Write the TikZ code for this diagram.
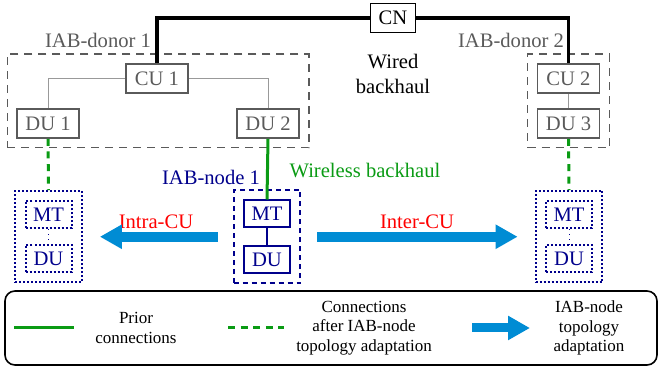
\documentclass[tikz,border=0pt]{standalone}
\usepackage{fontspec}
\setmainfont{Liberation Serif}
\usetikzlibrary{positioning,fit,arrows.meta}
\definecolor{wlgreen}{RGB}{10,155,20}
\definecolor{adblue}{RGB}{0,140,212}
\definecolor{iabnavy}{RGB}{0,0,140}
\definecolor{donorgray}{RGB}{90,90,90}
\tikzset{font=\fontsize{10.3}{12.5}\selectfont}
\tikzset{
	unit/.style={draw, line width=0.85pt, inner sep=0pt, minimum height=14.5pt, minimum width=31pt},
	donorunit/.style={unit, draw=donorgray, text=donorgray},
	iabunit/.style={unit, draw=iabnavy, text=iabnavy, line width=1pt, minimum width=23pt, minimum height=13.5pt},
	ghostunit/.style={iabunit, dash pattern=on 1pt off 1pt},
	donorbox/.style={draw=donorgray, line width=0.65pt, dash pattern=on 4pt off 3pt, inner sep=4.5pt},
	iabbox/.style={draw=iabnavy, line width=1pt, dash pattern=on 2.5pt off 2pt, inner sep=4.7pt},
	ghostbox/.style={draw=iabnavy, line width=1pt, dash pattern=on 1pt off 1pt, inner sep=4.7pt},
	wired/.style={line width=1.6pt},
	f1link/.style={draw=gray!80, line width=0.5pt},
	wireless/.style={wlgreen, line width=1.5pt},
	newlink/.style={wireless, dash pattern=on 3.5pt off 2.8pt},
	adapt/.style={adblue, line width=5pt, -{Triangle[length=11pt,width=11.5pt]}},
	legendtext/.style={align=center, font=\fontsize{8.5}{9.8}\selectfont},
}
\begin{document}
\begin{tikzpicture}[x=0.5pt, y=-0.5pt]
	\useasboundingbox (0,0) rectangle (659,368);

	\node[unit, minimum width=22.5pt] (cn) at (393,18) {CN};
	\node[align=center] (wired) at (393,74) {Wired\\backhaul};

	\node[donorunit] (cu1) at (157,78.5) {CU 1};
	\node[donorunit] (du1) at (48,123.5) {DU 1};
	\node[donorunit] (du2) at (268,123.5) {DU 2};
	\node[donorbox, fit=(cu1)(du1)(du2)] (donor1) {};
	\node[text=donorgray] (donor1lbl) at (98,40) {IAB-donor 1};

	\node[donorunit] (cu2) at (568.5,78.5) {CU 2};
	\node[donorunit] (du3) at (568.5,123.5) {DU 3};
	\node[donorbox, fit=(cu2)(du3)] (donor2) {};
	\node[text=donorgray] (donor2lbl) at (511,40) {IAB-donor 2};

	\node[iabunit] (mt1) at (267,214) {MT};
	\node[iabunit] (iabdu1) at (267,259.5) {DU};
	\node[iabbox, fit=(mt1)(iabdu1)] (iab1) {};
	\node[text=iabnavy] (iab1lbl) at (211,177) {IAB-node 1};

	\node[ghostunit] (mtl) at (48.5,215) {MT};
	\node[ghostunit] (dul) at (48.5,258.5) {DU};
	\node[ghostbox, fit=(mtl)(dul)] (iabl) {};

	\node[ghostunit] (mtr) at (569,215) {MT};
	\node[ghostunit] (dur) at (569,258.5) {DU};
	\node[ghostbox, fit=(mtr)(dur)] (iabr) {};

	\node[text=wlgreen] (wlbl) at (365,171) {Wireless backhaul};
	\node[text=red] (intra) at (156,222) {Intra-CU};
	\node[text=red] (inter) at (417,222) {Inter-CU};

	\draw [wired] (cu1.north) |- (cn.west);
	\draw [wired] (cn.east) -| (cu2.north);
	\draw [f1link] (cu1.west) -| (du1.north);
	\draw [f1link] (cu1.east) -| (du2.north);
	\draw [f1link] (cu2) to (du3);
	\draw [iabnavy, line width=0.6pt] (mt1) to (iabdu1);
	\draw [iabnavy, line width=0.4pt, dotted] (mtl) to (dul);
	\draw [iabnavy, line width=0.4pt, dotted] (mtr) to (dur);

	\draw [wireless] (du2.south) to (mt1.north);
	\draw [newlink] (du1.south) to (iabl.north);
	\draw [newlink] (du3.south) to (iabr.north);

	\draw [adapt, shorten <=7.5pt, shorten >=8.5pt] (iab1.west) to (iabl.east);
	\draw [adapt, shorten <=8pt, shorten >=8.5pt] (iab1.east) to (iabr.west);

	\node[draw, rounded corners=5pt, line width=0.8pt, minimum width=326pt, minimum height=37pt] (legend) at (331,328) {};
	\coordinate (l1a) at (14,328);
	\coordinate (l1b) at (74,328);
	\node[legendtext] (l1) at (136,328) {Prior\\connections};
	\coordinate (l2a) at (228,328);
	\coordinate (l2b) at (284,328);
	\node[legendtext] (l2) at (364,328) {Connections\\after IAB-node\\topology adaptation};
	\coordinate (l3a) at (472,328);
	\coordinate (l3b) at (530,328);
	\node[legendtext] (l3) at (589,328) {IAB-node\\topology\\adaptation};
	\draw [wireless] (l1a) to (l1b);
	\draw [newlink] (l2a) to (l2b);
	\draw [adapt, line width=4.5pt] (l3a) to (l3b);
\end{tikzpicture}
\end{document}
